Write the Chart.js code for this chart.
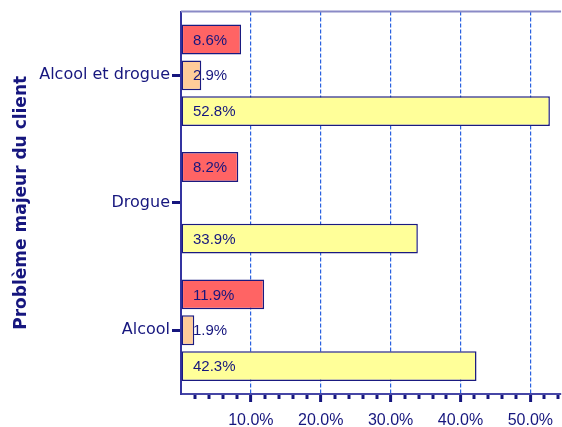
<!DOCTYPE html>
<html>
<head>
<meta charset="utf-8">
<script src="https://cdn.jsdelivr.net/npm/chart.js@4.4.1/dist/chart.umd.min.js"></script>
<style>
  html, body { margin: 0; padding: 0; background: #fff; }
  #wrap { width: 562px; height: 427px; }
</style>
</head>
<body>
<div id="wrap"><canvas id="ch"></canvas></div>
<script>
// données (%)
const categories   = ['Alcool et drogue', 'Drogue', 'Alcool'];
const seriesRed    = [8.6, 8.2, 11.9];
const seriesPeach  = [2.9, 0, 1.9];
const seriesYellow = [52.8, 33.9, 42.3];
const xTicks       = [0, 10, 20, 30, 40, 50];
const xMax         = 54.4;

const navy = '#16167e';
const comic = "'Comic Sans MS', 'DejaVu Sans', sans-serif";
const arial = "'Liberation Sans', Arial, sans-serif";

// trait du haut du cadre
const topLine = {
  id: 'topLine',
  afterDraw(chart) {
    const { ctx, chartArea: a } = chart;
    ctx.save();
    ctx.strokeStyle = '#8a8ac6';
    ctx.lineWidth = 2;
    ctx.beginPath();
    ctx.moveTo(a.left, a.top);
    ctx.lineTo(a.right, a.top);
    ctx.stroke();
    ctx.restore();
  }
};

// petites graduations tous les 2 %
const minorTicks = {
  id: 'minorTicks',
  afterDraw(chart) {
    const { ctx, chartArea: a } = chart;
    const x = chart.scales.x;
    ctx.save();
    ctx.strokeStyle = navy;
    ctx.lineWidth = 3;
    for (let v = 2; v < xMax; v += 2) {
      if (v % 10 === 0) continue;
      const px = Math.round(x.getPixelForValue(v));
      ctx.beginPath();
      ctx.moveTo(px, a.bottom + 1);
      ctx.lineTo(px, a.bottom + 5);
      ctx.stroke();
    }
    ctx.restore();
  }
};

// étiquettes dans les barres
const barLabels = {
  id: 'barLabels',
  afterDatasetsDraw(chart) {
    const { ctx, chartArea: a } = chart;
    ctx.save();
    ctx.font = '15px ' + arial;
    ctx.fillStyle = navy;
    ctx.textAlign = 'left';
    ctx.textBaseline = 'middle';
    chart.data.datasets.forEach((ds, i) => {
      chart.getDatasetMeta(i).data.forEach((bar, j) => {
        const v = ds.data[j];
        if (!v) return;
        ctx.fillText(v.toFixed(1) + '%', a.left + 12, bar.y + 1);
      });
    });
    ctx.restore();
  }
};

const mkSet = (data, color) => ({
  data,
  backgroundColor: color,
  borderColor: '#1a1a80',
  borderWidth: 1.5,
  borderSkipped: false,
  categoryPercentage: 0.84375,
  barPercentage: 0.8333,
});

new Chart(document.getElementById('ch'), {
  type: 'bar',
  data: {
    labels: categories,
    datasets: [
      mkSet(seriesRed, '#ff6464'),
      mkSet(seriesPeach, '#ffcc99'),
      mkSet(seriesYellow, '#ffff99'),
    ]
  },
  options: {
    indexAxis: 'y',
    responsive: true,
    maintainAspectRatio: false,
    animation: false,
    layout: { padding: { top: 10, right: 0, bottom: 0, left: 0 } },
    plugins: { legend: { display: false }, tooltip: { enabled: false } },
    scales: {
      x: {
        min: 0,
        max: xMax,
        afterBuildTicks: s => { s.ticks = xTicks.map(v => ({ value: v })); },
        afterFit: s => { s.height = 33; },
        grid: {
          color: c => (c.tick && c.tick.value === 0) ? 'rgba(0,0,0,0)' : '#2a62e0',
          tickColor: c => (c.tick && c.tick.value === 0) ? 'rgba(0,0,0,0)' : navy,
          lineWidth: 1.2,
          tickWidth: 3,
          tickLength: 8,
        },
        border: { color: '#4646a6', width: 2, dash: [4, 2] },
        ticks: {
          autoSkip: false,
          maxRotation: 0,
          padding: 9,
          color: navy,
          font: { family: arial, size: 16 },
          callback: v => v === 0 ? '' : v.toFixed(1) + '%',
        }
      },
      y: {
        afterFit: s => { s.width = 181; },
        grid: {
          offset: false,
          drawOnChartArea: false,
          tickColor: navy,
          tickWidth: 3,
          tickLength: 9,
        },
        border: { color: '#3434a0', width: 2 },
        ticks: {
          color: navy,
          padding: 2,
          font: { family: comic, size: 16 },
        },
        title: {
          display: true,
          text: 'Problème majeur du client',
          color: navy,
          padding: { top: 11, bottom: 0 },
          font: { family: comic, size: 17, weight: 'bold' },
        }
      }
    }
  },
  plugins: [topLine, minorTicks, barLabels]
});
</script>
</body>
</html>
